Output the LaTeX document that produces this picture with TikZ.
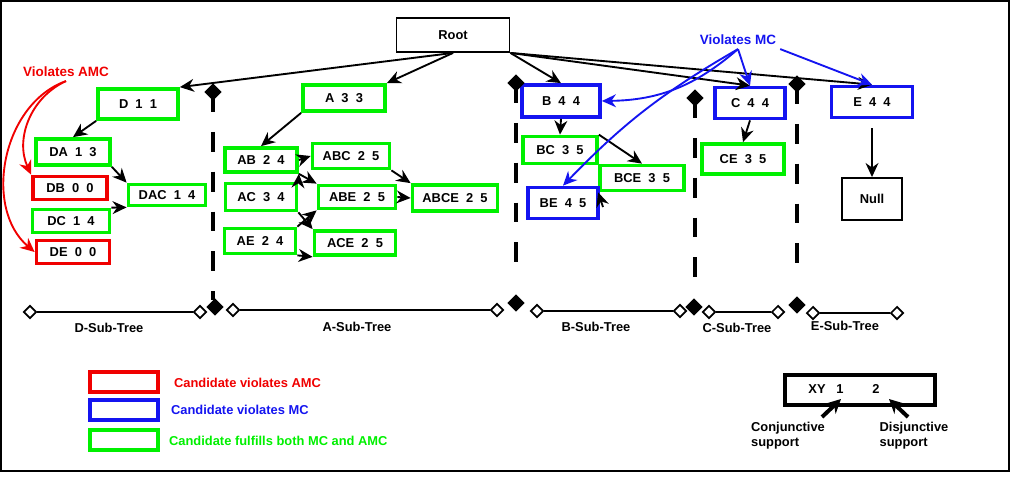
\documentclass[tikz,border=0pt]{standalone}
\usepackage{fontspec}
\setmainfont{Liberation Sans}
\usetikzlibrary{arrows.meta,shapes.geometric}
\definecolor{gr}{RGB}{0,240,0}
\definecolor{bl}{RGB}{20,20,240}
\definecolor{rd}{RGB}{240,0,0}
\begin{document}
\begin{tikzpicture}[x=0.03cm,y=-0.03cm,
  font=\fontsize{11}{13}\selectfont\bfseries,
  bx/.style={draw,line width=1.6pt,minimum width=#1*0.03cm,inner sep=0pt},
  g/.style={draw=gr,line width=3.2pt},
  b/.style={draw=bl,line width=3.2pt},
  r/.style={draw=rd,line width=3.2pt},
  ar/.style={-{Stealth[length=12pt,width=11pt]},line width=1.6pt},
  sep/.style={line width=3.4pt,dash pattern=on 17pt off 17pt},
  od/.style={diamond,draw,line width=1.4pt,fill=white,inner sep=0pt,minimum size=11pt},
  fd/.style={diamond,fill=black,inner sep=0pt,minimum size=15pt}]
\useasboundingbox (0,0) rectangle (1012,478);
\draw[line width=1.4pt] (1,1) rectangle (1009,471);
% nodes
\node[bx=113,minimum height=34*0.03cm] (root) at (453,35) {Root};
\node[bx=80,g,minimum height=30*0.03cm] (D) at (138,104) {D\ \ 1\ \ 1};
\node[bx=82,g,minimum height=26*0.03cm] (A) at (344,98) {A\ \ 3\ \ 3};
\node[bx=78,b,minimum height=32*0.03cm] (B) at (561,101) {B\ \ 4\ \ 4};
\node[bx=70,b,minimum height=31*0.03cm] (C) at (750,103) {C\ \ 4\ \ 4};
\node[bx=81,b,minimum height=31*0.03cm] (E) at (872,102) {E\ \ 4\ \ 4};
\node[bx=74,g,minimum height=27*0.03cm] (BC) at (560,150) {BC\ \ 3\ \ 5};
\node[bx=84,g,minimum height=25*0.03cm] (BCE) at (642,178) {BCE\ \ 3\ \ 5};
\node[bx=70,b,minimum height=31*0.03cm] (BE) at (563,203) {BE\ \ 4\ \ 5};
\node[bx=82,g,minimum height=30*0.03cm] (CE) at (743,159) {CE\ \ 3\ \ 5};
\node[bx=60,minimum height=42*0.03cm] (Null) at (872,199) {Null};
\node[bx=74,g,minimum height=26*0.03cm] (DA) at (73,152) {DA\ \ 1\ \ 3};
\node[bx=74,r,minimum height=23*0.03cm] (DB) at (70,188) {DB\ \ 0\ \ 0};
\node[bx=77,g,minimum height=23*0.03cm] (DC) at (71,221) {DC\ \ 1\ \ 4};
\node[bx=73,r,minimum height=23*0.03cm] (DE) at (73,252) {DE\ \ 0\ \ 0};
\node[bx=77,g,minimum height=21*0.03cm] (DAC) at (167,195) {DAC\ \ 1\ \ 4};
\node[bx=72,g,minimum height=24*0.03cm] (AB) at (261,160) {AB\ \ 2\ \ 4};
\node[bx=77,g,minimum height=25*0.03cm] (ABC) at (351,156) {ABC\ \ 2\ \ 5};
\node[bx=71,g,minimum height=27*0.03cm] (AC) at (261,197) {AC\ \ 3\ \ 4};
\node[bx=77,g,minimum height=23*0.03cm] (ABE) at (357,197) {ABE\ \ 2\ \ 5};
\node[bx=85,g,minimum height=26*0.03cm] (ABCE) at (455,198) {ABCE\ \ 2\ \ 5};
\node[bx=71,g,minimum height=25*0.03cm] (AE) at (260,241) {AE\ \ 2\ \ 4};
\node[bx=81,g,minimum height=24*0.03cm] (ACE) at (355,243) {ACE\ \ 2\ \ 5};
% root arrows
\draw[ar] (root.south) -- (D.north east);
\draw[ar] (root.south) -- (A.north east);
\draw[ar] (root.south east) -- (B.north);
\draw[ar] (root.south east) -- (C.north);
\draw[ar] (root.south east) -- (E.north);
% tree arrows
\draw[ar] (D.south west) -- (DA.north);
\draw[ar] (DA.south east) -- (DAC.north west);
\draw[ar] (DC.north east) -- (DAC.south west);
\draw[ar] (A.south west) -- (AB.north);
\draw[ar] (AB.east) -- (ABC.west);
\draw[ar] (ABC.south east) -- (ABCE.north west);
\draw[ar] (ABE.east) -- (ABCE.west);
\draw[ar] (AB.south east) -- (ABE.north west);
\draw[ar] (AC.north east) -- (AB.south east);
\draw[ar] (AC.south east) -- (ACE.north west);
\draw[ar] (AE.north east) -- (ABE.south west);
\draw[ar] (AE.south east) -- (ACE.south west);
\draw[ar] (B.south) -- (BC.north);
\draw[ar] (BC.north east) -- (BCE.north);
\coordinate (bes) at (603,207);
\draw[ar] (bes) -- (BCE.south west);
\draw[ar] (C.south) -- (CE.north);
\draw[ar] (E.south) ++(0,9) -- (Null.north);
% violates labels
\node[text=bl,font=\fontsize{11.5}{13}\selectfont\bfseries] (vmc) at (738,40) {Violates MC};
\node[text=rd,font=\fontsize{11.5}{13}\selectfont\bfseries] (vamc) at (66,72) {Violates AMC};
\begin{scope}[ar,draw=bl]
\draw (vmc.south) to[bend left=20] (B.east);
\draw (vmc.south) to[bend right=8] (BE.north);
\draw (vmc.south) -- (C.north);
\draw (vmc.south east) -- (E.north);
\end{scope}
\begin{scope}[ar,draw=rd]
\draw (vamc.south) to[bend right=45] (DB.north west);
\draw (vamc.south) to[bend right=60] (DE.west);
\end{scope}
% separators
\foreach \x/\t/\b/\n in {213/92/300/s1,516/83/282/s2,695/98/292/s3,797/84/280/s4}{
  \draw[sep] (\x,\t) -- (\x,\b);
  \node[fd] (\n) at (\x,\t) {};
}
\node[fd] (f1) at (215,307) {};
\node[fd] (f2) at (516,303) {};
\node[fd] (f3) at (694,307) {};
\node[fd] (f4) at (797,305) {};
\foreach \a/\c/\y/\n in {30/200/312/d,233/497/310/a,537/680/311/b,709/778/312/c,813/897/313/e}{
  \node[od] (\n1) at (\a,\y) {};
  \node[od] (\n2) at (\c,\y) {};
  \draw[line width=1.4pt] (\n1) -- (\n2);
}
\node at (109,328) {D-Sub-Tree};
\node at (357,327) {A-Sub-Tree};
\node at (596,327) {B-Sub-Tree};
\node at (737,328) {C-Sub-Tree};
\node at (845,326) {E-Sub-Tree};
% legend
\node[bx=68,r,minimum height=20*0.03cm] (lr) at (124,382) {};
\node[bx=68,b,minimum height=20*0.03cm] (lb) at (124,410) {};
\node[bx=68,g,minimum height=20*0.03cm] (lg) at (124,440) {};
\node[anchor=west,text=rd] at (170,383) {Candidate violates AMC};
\node[anchor=west,text=bl] at (167,410) {Candidate violates MC};
\node[anchor=west,text=gr] at (165,441) {Candidate fulfills both MC and AMC};
\node[draw,line width=3.4pt,minimum width=150*0.03cm,minimum height=30*0.03cm] (xy) at (860,390) {};
\node (xyt) at (817,389) {XY};
\node (one) at (840,389) {1};
\node (two) at (876,389) {2};
\node[align=left,anchor=north] (conj) at (788,418) {Conjunctive\\support};
\node[align=left,anchor=north] (disj) at (914,418) {Disjunctive\\support};
\draw[-{Stealth[length=12pt,width=12pt]},line width=3.4pt] (822,417) -- (841,399);
\draw[-{Stealth[length=12pt,width=12pt]},line width=3.4pt] (908,417) -- (889,399);
\end{tikzpicture}
\end{document}
